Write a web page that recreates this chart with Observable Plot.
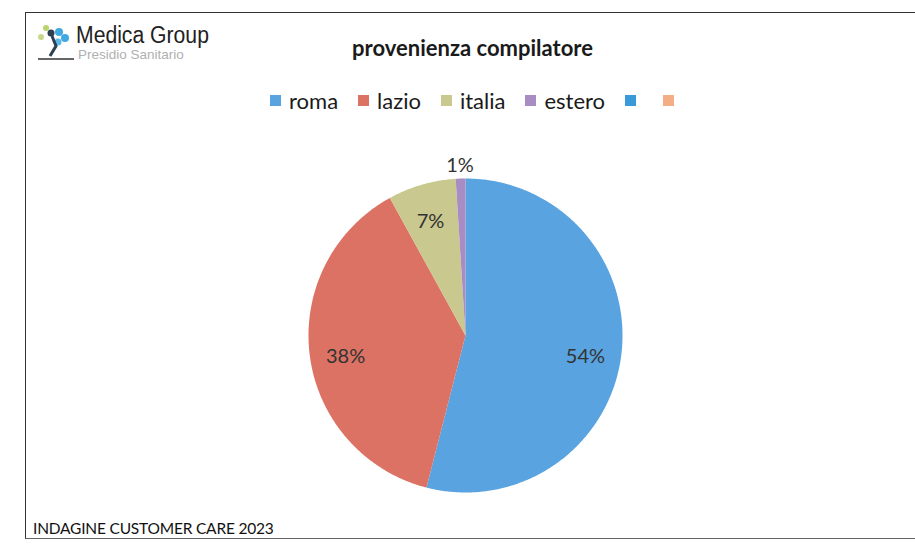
<!DOCTYPE html>
<html><head><meta charset="utf-8">
<script src="https://cdn.jsdelivr.net/npm/d3@7"></script>
<script src="https://cdn.jsdelivr.net/npm/@observablehq/plot@0.6"></script>
<style>
html,body{margin:0;padding:0;background:#fff;}
#page{position:relative;width:915px;height:544px;overflow:hidden;font-family:Lato,"Open Sans",sans-serif;}
.abs{position:absolute;}
#frame{left:25px;top:12px;width:895px;height:525px;border-left:1.5px solid #333;border-top:1.5px solid #333;border-bottom:1.5px solid #666;}
#title{left:0;width:945px;top:34px;text-align:center;font-weight:bold;font-size:22px;color:#1a1a1a;}
#legend{left:270px;top:87px;display:flex;align-items:center;font-size:22px;color:#1a1a1a;white-space:pre;}
.sw{display:inline-block;width:11px;height:11px;margin-right:8px;}
.item{display:flex;align-items:center;margin-right:20px;}
#caption{left:33px;top:519px;font-size:15.5px;color:#111;letter-spacing:-0.2px;}
#brand{left:76px;top:22px;font-family:"Liberation Sans Narrow","Liberation Sans",Arial,sans-serif;font-size:23px;color:#222;transform-origin:0 0;transform:scaleX(0.92);}
#sub{left:78px;top:47px;font-family:"Liberation Sans",Arial,sans-serif;font-size:13.5px;color:#b0b0b0;}
#chart{left:265px;top:135px;}
</style></head>
<body><div id="page">
<div class="abs" id="chart"></div>
<div class="abs" id="frame"></div>
<svg class="abs" style="left:34px;top:20px" width="42" height="44">
  <circle cx="12" cy="8" r="3" fill="#b9d46a"/>
  <circle cx="7" cy="17" r="3" fill="#c7d88a"/>
  <circle cx="17" cy="13" r="3.5" fill="#2c3e50"/>
  <circle cx="25" cy="12" r="4" fill="#3fa9e0"/>
  <circle cx="31" cy="18" r="4" fill="#3fa9e0"/>
  <circle cx="24" cy="22" r="3.5" fill="#5bb8e8"/>
  <path d="M18 16 L22 26 L16 36" stroke="#2c3e50" stroke-width="3" fill="none"/>
  <line x1="4" y1="39" x2="40" y2="39" stroke="#333" stroke-width="1.5"/>
</svg>
<div class="abs" id="brand">Medica Group</div>
<div class="abs" id="sub">Presidio Sanitario</div>
<div class="abs" id="title">provenienza compilatore</div>
<div class="abs" id="legend"></div>
<div class="abs" id="caption">INDAGINE CUSTOMER CARE 2023</div>
</div>
<script>
const categories = ["roma", "lazio", "italia", "estero"];
const values = [54, 38, 7, 1];
const labels = ["54%", "38%", "7%", "1%"];
const colors = ["#58a3e0", "#dc7264", "#c9c88e", "#a88cc4"];
const legendNames = ["roma", "lazio", "italia", "estero", "", ""];
const legendColors = ["#58a3e0", "#dc7264", "#c9c88e", "#a88cc4", "#3a9ad9", "#f3ae86"];

// legend
const lg = document.getElementById("legend");
legendNames.forEach((n, i) => {
  const it = document.createElement("div");
  it.className = "item";
  const sw = document.createElement("span");
  sw.className = "sw"; sw.style.background = legendColors[i];
  it.appendChild(sw);
  if (n) { const t = document.createElement("span"); t.textContent = n; it.appendChild(t); }
  else it.style.marginRight = "19px";
  lg.appendChild(it);
});

// pie geometry from data
const pie = d3.pie().sort(null).value(d => d.value);
const data = categories.map((c, i) => ({name: c, value: values[i], label: labels[i]}));
const arcs = pie(data);
const features = arcs.map(a => {
  const ring = [[0, 0]];
  const n = Math.max(2, Math.ceil((a.endAngle - a.startAngle) / 0.01));
  for (let k = 0; k <= n; k++) {
    const t = a.startAngle + (a.endAngle - a.startAngle) * k / n;
    ring.push([Math.sin(t), Math.cos(t)]);
  }
  ring.push([0, 0]);
  return {type: "Feature", properties: {name: a.data.name}, geometry: {type: "Polygon", coordinates: [ring]}};
});
const labelPts = arcs.map(a => {
  const m = (a.startAngle + a.endAngle) / 2;
  const r = a.data.value < 3 ? 1.12 : (a.data.value < 10 ? 0.8 : 0.77);
  return {x: Math.sin(m) * r, y: Math.cos(m) * r - 0.04, label: a.data.label};
});
const h = 200 / 157;
const chart = Plot.plot({
  width: 400, height: 400, margin: 0,
  style: {background: "transparent"},
  projection: {type: "reflect-y", domain: {type: "MultiPoint", coordinates: [[-h, -h], [h, h]]}},
  color: {domain: categories, range: colors},
  marks: [
    Plot.geo(features, {fill: d => d.properties.name}),
    Plot.text(labelPts, {x: "x", y: "y", text: "label", fontSize: 20, fill: "#333", fontFamily: "Lato, sans-serif"})
  ]
});
document.getElementById("chart").appendChild(chart);
</script>
</body></html>
